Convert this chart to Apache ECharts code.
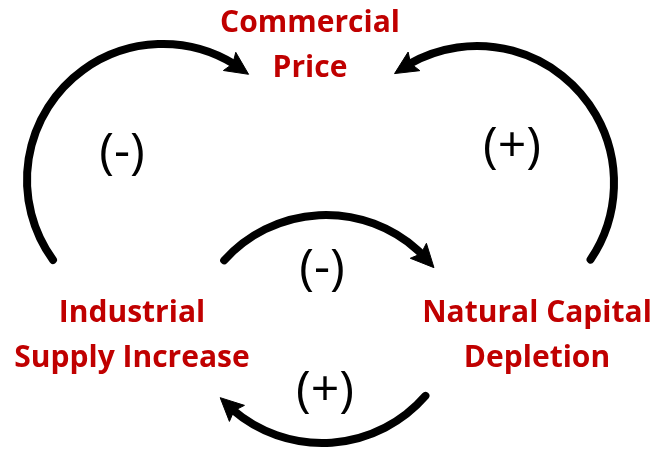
<!DOCTYPE html>
<html>
<head>
<meta charset="utf-8">
<script src="https://cdn.jsdelivr.net/npm/echarts@6/dist/echarts.min.js"></script>
<style>
html,body{margin:0;padding:0;background:#fff;}
#main{width:658px;height:454px;}
</style>
</head>
<body>
<div id="main"></div>
<script>
//节点名称及位置
var nodeNames=['Commercial\nPrice','Industrial\nSupply Increase','Natural Capital\nDepletion'];
var nodeX=[310,132,537];
var nodeY=[46,336,336];
//极性标签
var signLabels=['(-)','(+)','(-)','(+)'];
var signX=[122,512,322,325];
var signY=[154,148,270,392];
//因果弧线: 圆心x, 圆心y, 半径, 起始角, 箭头角
var arcCx=[163,477,326,322];
var arcCy=[180,183,352,306];
var arcR=[136,137,137,137];
var arcStart=[144,34,222,41];
var arcEnd=[309,-127,322,138];

var arcData=[],nodeData=[],signData=[];
for(var i=0;i<arcCx.length;i++){
    arcData.push([arcCx[i],arcCy[i],arcR[i],arcStart[i],arcEnd[i]]);
}
for(var i=0;i<nodeNames.length;i++){
    nodeData.push({value:[nodeX[i],nodeY[i]],name:nodeNames[i]});
}
for(var i=0;i<signLabels.length;i++){
    signData.push({value:[signX[i],signY[i]],name:signLabels[i]});
}

function renderArc(params,api){
    var c=api.coord([api.value(0),api.value(1)]);
    var r=api.size([api.value(2),0])[0];
    var a0=api.value(3)*Math.PI/180,a1=api.value(4)*Math.PI/180;
    var sgn=a1>a0?1:-1;
    var head=23,hw=11;
    var aB=a1-sgn*head/r;
    var T=[c[0]+r*Math.cos(a1),c[1]+r*Math.sin(a1)];
    var B=[c[0]+r*Math.cos(aB),c[1]+r*Math.sin(aB)];
    var dx=T[0]-B[0],dy=T[1]-B[1],len=Math.sqrt(dx*dx+dy*dy);
    var ux=dx/len,uy=dy/len,nx=-uy,ny=ux;
    var notch=[B[0]+ux*4,B[1]+uy*4];
    var aLine=a1-sgn*(head-6)/r;
    var s=Math.min(a0,aLine),e=Math.max(a0,aLine);
    return {
        type:'group',
        children:[{
            type:'arc',
            shape:{cx:c[0],cy:c[1],r:r,startAngle:s,endAngle:e,clockwise:true},
            style:{fill:'none',stroke:'#000',lineWidth:8,lineCap:'round'}
        },{
            type:'polygon',
            shape:{points:[T,[B[0]+nx*hw,B[1]+ny*hw],notch,[B[0]-nx*hw,B[1]-ny*hw]]},
            style:{fill:'#000',stroke:'#000',lineWidth:1}
        }]
    };
}

var chart=echarts.init(document.getElementById('main'));
var option={
    backgroundColor:'#fff',
    animation:false,
    grid:{left:0,right:0,top:0,bottom:0},
    xAxis:{type:'value',min:0,max:658,show:false},
    yAxis:{type:'value',min:0,max:454,inverse:true,show:false},
    series:[
        {
            type:'custom',
            renderItem:renderArc,
            data:arcData,
            silent:true
        },
        {
            type:'scatter',
            symbolSize:0,
            itemStyle:{opacity:1},
            data:nodeData,
            label:{
                show:true,
                position:'inside',
                formatter:function(p){return p.name;},
                fontFamily:'Open Sans',
                fontWeight:'bold',
                fontSize:30,
                lineHeight:45,
                color:'#C00000',
                opacity:1,
                textBorderWidth:0,
                align:'center',
                verticalAlign:'middle'
            }
        },
        {
            type:'scatter',
            symbolSize:0,
            itemStyle:{opacity:1},
            data:signData,
            label:{
                show:true,
                position:'inside',
                formatter:function(p){return p.name;},
                fontFamily:'Open Sans',
                fontSize:50,
                color:'#000',
                opacity:1,
                textBorderWidth:0,
                align:'center',
                verticalAlign:'middle'
            }
        }
    ]
};
chart.setOption(option);
</script>
</body>
</html>
